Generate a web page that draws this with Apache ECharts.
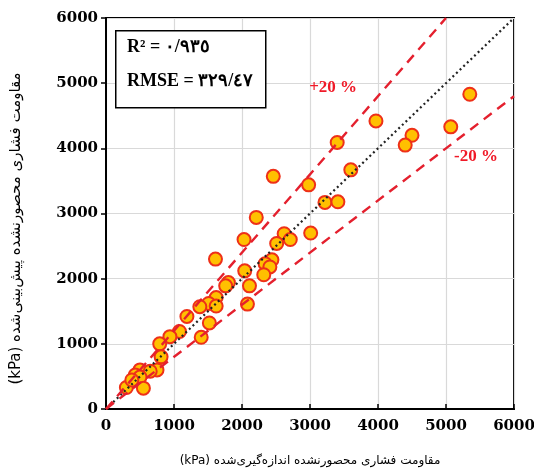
<!DOCTYPE html>
<html><head><meta charset="utf-8">
<script src="https://cdn.jsdelivr.net/npm/echarts@6/dist/echarts.min.js"></script>
<style>html,body{margin:0;padding:0;background:#fff}#c{width:534px;height:473px}</style>
</head><body><div id="c"></div>
<script>
// measured vs predicted unconfined compressive strength (kPa)
const measured = [5350,5070,4500,4400,3970,3400,3600,2980,3220,3410,3010,2460,2210,2030,2620,2710,2510,1610,2440,2340,2410,2320,2040,1800,1760,2110,2080,1620,1510,1620,1380,1190,1520,1080,1400,940,790,810,750,500,650,430,500,550,300,380];
const predicted = [4830,4330,4200,4050,4420,4090,3670,3440,3170,3180,2700,3570,2940,2600,2690,2600,2540,2300,2290,2230,2180,2060,2120,1940,1890,1890,1610,1710,1620,1580,1570,1420,1320,1190,1100,1110,1000,800,600,600,580,520,490,320,330,445];
const tickValues = [0,1000,2000,3000,4000,5000,6000];
const lineFactors = [1.2, 0.8];
const bandLabels = ['+20 %', '-20 %'];
const bandLabelPos = [[3340, 4930], [5440, 3870]];
const statsText = ['R² = ٠/٩٣٥', 'RMSE = ٣٢٩/٤٧'];
const xName = '(kPa) مقاومت فشاری محصورنشده اندازه‌گیری‌شده';
const yName = '(kPa) مقاومت فشاری محصورنشده پیش‌بینی‌شده';

const axMax = tickValues[tickValues.length-1];
function lineData(k){ const xe = Math.min(axMax, axMax/k); return [[0,0],[xe,xe*k]]; }
const pts = measured.map((m,i)=>[m,predicted[i]]);
const serif = 'Liberation Serif, DejaVu Serif, serif';

const chart = echarts.init(document.getElementById('c'));
const axisCommon = {
  type:'value', min:0, max:axMax, interval:1000,
  axisLine:{show:true,lineStyle:{color:'#000',width:2}},
  splitLine:{show:true,lineStyle:{color:'#d9d9d9',width:1.2}},
  axisLabel:{color:'#000',fontFamily:'DejaVu Serif, serif',fontWeight:'bold',fontSize:15,formatter:v=>String(v)},
  nameLocation:'middle'
};
chart.setOption({
  animation:false,
  backgroundColor:'#fff',
  grid:{left:106,right:20,top:18,bottom:64,containLabel:false,outerBoundsMode:'none',show:true,borderColor:'#000',borderWidth:2,backgroundColor:'transparent'},
  xAxis:Object.assign({}, axisCommon, {
    name:xName, nameGap:46,
    nameTextStyle:{color:'#000',fontFamily:'DejaVu Sans, serif',fontSize:12},
    axisTick:{show:true,inside:true,length:5,lineStyle:{color:'#000',width:1.5}},
    axisLabel:Object.assign({}, axisCommon.axisLabel, {margin:10})
  }),
  yAxis:Object.assign({}, axisCommon, {
    name:yName, nameGap:82,
    nameTextStyle:{color:'#000',fontFamily:'DejaVu Sans, serif',fontSize:15,padding:[0,30,0,0]},
    axisTick:{show:true,inside:false,length:5,lineStyle:{color:'#000',width:1.5}},
    axisLabel:Object.assign({}, axisCommon.axisLabel, {margin:8})
  }),
  graphic:[
    {type:'rect',left:115,top:30,shape:{width:150,height:77},style:{fill:'#fff',stroke:'#000',lineWidth:1.5},z:100},
    {type:'text',left:127,top:38,style:{text:statsText[0],font:'bold 18px '+serif,fill:'#000'},z:101},
    {type:'text',left:127,top:72,style:{text:statsText[1],font:'bold 18px '+serif,fill:'#000'},z:101}
  ],
  series:[
    {type:'scatter',data:pts,symbol:'circle',symbolSize:13,
     itemStyle:{color:'#FFC000',borderColor:'#EE3018',borderWidth:2,opacity:1},z:2},
    {type:'line',data:lineData(1),symbol:'none',lineStyle:{color:'#222',width:2.2,type:[2,3]},z:3},
    {type:'line',data:lineData(lineFactors[0]),symbol:'none',lineStyle:{color:'#E4202E',width:2.4,type:[10,7]},z:3},
    {type:'line',data:lineData(lineFactors[1]),symbol:'none',lineStyle:{color:'#E4202E',width:2.4,type:[10,7]},z:3},
    {type:'scatter',symbol:'circle',symbolSize:1,itemStyle:{opacity:0},z:4,
     data:bandLabelPos.map((p,i)=>({value:p,label:{show:true,formatter:bandLabels[i]}})),
     label:{position:'inside',color:'#F01A28',fontFamily:serif,fontWeight:'bold',fontSize:17,opacity:1}}
  ]
});
</script></body></html>
